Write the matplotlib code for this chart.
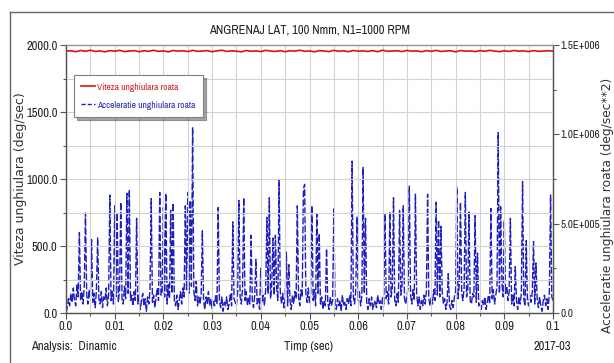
import numpy as np
import matplotlib
matplotlib.use("Agg")
import matplotlib.pyplot as plt
from matplotlib import font_manager
from matplotlib.lines import Line2D
from matplotlib.ticker import FixedLocator, FixedFormatter, MultipleLocator

# ---------------- data ----------------
title = "ANGRENAJ LAT, 100 Nmm, N1=1000 RPM"
x_label = "Timp (sec)"
y_left_label = "Viteza unghiulara (deg/sec)"
y_right_label = "Acceleratie unghiulara roata (deg/sec**2)"
series_names = ["Viteza unghiulara roata", "Acceleratie unghiulara roata"]
footer_left = "Analysis:  Dinamic"
footer_right = "2017-03"

x_ticks = [0.0, 0.01, 0.02, 0.03, 0.04, 0.05, 0.06, 0.07, 0.08, 0.09, 0.1]
x_tick_labels = ["0.0", "0.01", "0.02", "0.03", "0.04", "0.05", "0.06", "0.07", "0.08", "0.09", "0.1"]
yl_ticks = [0, 500, 1000, 1500, 2000]
yl_tick_labels = ["0.0", "500.0", "1000.0", "1500.0", "2000.0"]
yr_ticks = [0, 5e5, 1e6, 1.5e6]
yr_tick_labels = ["0.0", "5.0E+005", "1.0E+006", "1.5E+006"]

# angular velocity (deg/sec), step at t=0 then samples every 1 ms
vel_time = [0.0] + [i * 0.001 for i in range(101)]
vel_values = [0, 1955,
              1957, 1950, 1959, 1953, 1961, 1952, 1956, 1949, 1958, 1954,
              1960, 1951, 1955, 1958, 1950, 1957, 1953, 1961, 1952, 1956,
              1949, 1959, 1954, 1957, 1951, 1960, 1953, 1955, 1958, 1950,
              1956, 1961, 1952, 1957, 1954, 1949, 1959, 1953, 1956, 1951,
              1960, 1955, 1952, 1958, 1950, 1957, 1954, 1961, 1953, 1956,
              1949, 1958, 1955, 1951, 1960, 1953, 1957, 1950, 1959, 1954,
              1956, 1952, 1958, 1950, 1961, 1953, 1955, 1957, 1951, 1959,
              1954, 1956, 1950, 1958, 1953, 1960, 1952, 1955, 1957, 1949,
              1959, 1954, 1956, 1951, 1958, 1953, 1960, 1955, 1950, 1957,
              1952, 1959, 1954, 1956, 1951, 1958, 1953, 1955, 1957, 1954]

# angular acceleration (thousands of deg/sec^2), sampled every 0.25 ms
acc_step = 0.00025
acc_k = [
    0, 30, 80, 40, 110, 60, 140, 70, 40, 160, 90, 450, 70, 120, 50, 150, 560, 100, 50, 130,
    80, 410, 60, 110, 30, 130, 420, 80, 50, 120, 30, 90, 70, 140, 40, 100, 660, 70, 120, 50,
    600, 90, 560, 60, 130, 620, 80, 50, 150, 80, 670, 110, 690, 70, 100, 40, 120, 70, 530, 50,
    100, 20, 70, 110, 40, 80, 10, 90, 50, 130, 640, 60, 100, 30, 90, 140, 70, 675, 100, 120,
    590, 90, 670, 50, 160, 80, 575, 110, 615, 70, 40, 100, 20, 70, 120, 50, 140, 90, 600, 130,
    675, 110, 630, 150, 1040, 120, 70, 180, 40, 90, 50, 100, 460, 70, 20, 90, 50, 120, 40, 80,
    20, 70, 40, 100, 50, 590, 70, 30, 90, 10, 60, 40, 90, 20, 50, 110, 40, 510, 80, 60,
    40, 120, 630, 90, 50, 140, 645, 70, 120, 40, 90, 50, 435, 70, 30, 100, 300, 50, 80, 20,
    250, 60, 100, 40, 130, 535, 110, 645, 80, 160, 420, 100, 435, 140, 70, 745, 120, 50, 110, 30,
    80, 340, 40, 270, 70, 20, 100, 50, 120, 80, 600, 90, 40, 130, 90, 695, 720, 110, 60, 140,
    50, 100, 600, 70, 130, 40, 555, 110, 445, 50, 90, 20, 70, 40, 360, 60, 20, 90, 40, 70,
    590, 50, 20, 80, 40, 70, 10, 100, 40, 60, 20, 80, 50, 100, 40, 850, 90, 50, 130, 540,
    70, 120, 40, 100, 815, 110, 530, 60, 20, 80, 40, 90, 20, 50, 70, 30, 100, 50, 70, 20,
    90, 40, 555, 80, 120, 50, 565, 90, 140, 645, 70, 40, 110, 60, 575, 100, 150, 600, 80, 50,
    100, 140, 710, 100, 50, 130, 70, 665, 110, 40, 90, 20, 70, 40, 100, 50, 120, 665, 80, 40,
    90, 50, 130, 70, 620, 100, 520, 90, 485, 120, 50, 80, 20, 60, 220, 40, 20, 70, 30, 90,
    120, 705, 80, 160, 620, 110, 70, 140, 675, 90, 130, 565, 70, 50, 110, 90, 545, 60, 335, 40,
    50, 20, 70, 40, 90, 20, 60, 100, 50, 585, 80, 130, 50, 100, 150, 1010, 110, 595, 170, 90,
    520, 110, 150, 70, 120, 530, 50, 100, 40, 260, 70, 20, 90, 50, 110, 735, 80, 40, 405, 70,
    40, 100, 60, 120, 400, 50, 280, 80, 30, 90, 40, 10, 70, 100, 40, 80, 20, 110, 660, 90,
    70]

# ---------------- fonts ----------------
ttf = font_manager.fontManager.ttflist
names = {f.name for f in ttf}
NARROW_FAM, NARROW_STRETCH, NARROW_SIZE = "Liberation Sans", "normal", 7.6
narrow_names = sorted(n for n in names if "narrow" in n.lower())
if narrow_names:
    NARROW_FAM, NARROW_SIZE = narrow_names[0], 9.0
elif any("DejaVuSansCondensed" in f.fname for f in ttf):
    NARROW_FAM, NARROW_STRETCH, NARROW_SIZE = "DejaVu Sans", "condensed", 8.0
elif "Roboto Condensed" in names:
    NARROW_FAM, NARROW_SIZE = "Roboto Condensed", 8.6
NFONT = dict(family=NARROW_FAM, stretch=NARROW_STRETCH)
WIDE = "DejaVu Sans"

W, H = 614, 363
fig = plt.figure(figsize=(W / 100, H / 100), dpi=100)
fig.patch.set_facecolor("white")

def fx(px):
    return px / W

def fy(py):
    return 1 - py / H

L, R, T, B = 66, 553, 45, 313
ax = fig.add_axes([fx(L), fy(B), fx(R) - fx(L), fy(T) - fy(B)])
ax2 = ax.twinx()

RED = "#e01010"
BLUE = "#1f1fc0"
GRID = "#d2d2d2"
AXC = "#555555"

ax.set_xlim(0, 0.1)
ax.set_ylim(0, 2000)
ax2.set_ylim(0, 1.5e6)

ax.xaxis.set_major_locator(FixedLocator(x_ticks))
ax.xaxis.set_major_formatter(FixedFormatter(x_tick_labels))
ax.xaxis.set_minor_locator(MultipleLocator(0.005))
ax.yaxis.set_major_locator(FixedLocator(yl_ticks))
ax.yaxis.set_major_formatter(FixedFormatter(yl_tick_labels))
ax.yaxis.set_minor_locator(MultipleLocator(250))
ax2.yaxis.set_major_locator(FixedLocator(yr_ticks))
ax2.yaxis.set_major_formatter(FixedFormatter(yr_tick_labels))
ax2.yaxis.set_minor_locator(MultipleLocator(2.5e5))

ax.grid(True, which="both", color=GRID, lw=0.8)
ax.set_axisbelow(True)

for a in (ax, ax2):
    a.tick_params(which="major", length=4, width=0.8, color=AXC, labelsize=NARROW_SIZE,
                  labelcolor="#222222", pad=2)
    a.tick_params(which="minor", length=2.5, width=0.8, color=AXC)
    for s in a.spines.values():
        s.set_color(AXC)
        s.set_linewidth(0.9)
    a.spines["top"].set_color("#999999")
ax2.tick_params(which="major", labelsize=NARROW_SIZE - 1.0, pad=1.5)
for lab in ax.get_xticklabels() + ax.get_yticklabels() + ax2.get_yticklabels():
    lab.set_fontfamily(NARROW_FAM)
    lab.set_fontstretch(NARROW_STRETCH)

acc_time = np.arange(len(acc_k)) * acc_step
acc_vals = np.array(acc_k, dtype=float) * 1000.0

l2, = ax2.plot(acc_time, acc_vals, color=BLUE, lw=1.0, dashes=(5, 1.5))
l1, = ax.plot(vel_time, vel_values, color=RED, lw=1.2)
ax.set_zorder(ax2.get_zorder() + 1)
ax.patch.set_visible(False)

leg = ax.legend([l1, Line2D([], [], color=BLUE, lw=1.0, dashes=(3, 1.5))], series_names,
                loc="upper left", bbox_to_anchor=(0.016, 0.888),
                prop=dict(family=NARROW_FAM, stretch=NARROW_STRETCH, size=NARROW_SIZE - 2.2),
                frameon=True, fancybox=False,
                shadow=True, handlelength=1.4, handletextpad=0.3, borderpad=0.8,
                labelspacing=0.95, borderaxespad=0)
leg.get_frame().set_edgecolor("#808080")
leg.get_frame().set_linewidth(0.8)
leg.texts[0].set_color("#d02020")
leg.texts[1].set_color("#2828b0")

fig.text(fx(310), fy(30), title, ha="center", va="center", size=NARROW_SIZE,
         color="#222222", **NFONT)
fig.text(fx(21), fy(179), y_left_label, rotation=90, ha="center", va="center",
         family=WIDE, size=9.0, color="#333333")
fig.text(fx(608), fy(333), y_right_label, rotation=90, ha="center", va="bottom",
         family=WIDE, size=8.8, color="#333333")
fig.text(fx(31), fy(347), footer_left, ha="left", va="center", size=NARROW_SIZE,
         color="#222222", **NFONT)
fig.text(fx(309), fy(347), x_label, ha="center", va="center", size=NARROW_SIZE,
         color="#222222", **NFONT)
fig.text(fx(571), fy(347), footer_right, ha="right", va="center", size=NARROW_SIZE,
         color="#222222", **NFONT)

# outer frame of the screenshot
fig.add_artist(Line2D([fx(9.5), fx(9.5)], [0, fy(11.5)], transform=fig.transFigure, color="#666666", lw=1))
fig.add_artist(Line2D([fx(9.5), 1], [fy(11.5), fy(11.5)], transform=fig.transFigure, color="#666666", lw=1))

fig.savefig("out.png", dpi=100, facecolor="white")
